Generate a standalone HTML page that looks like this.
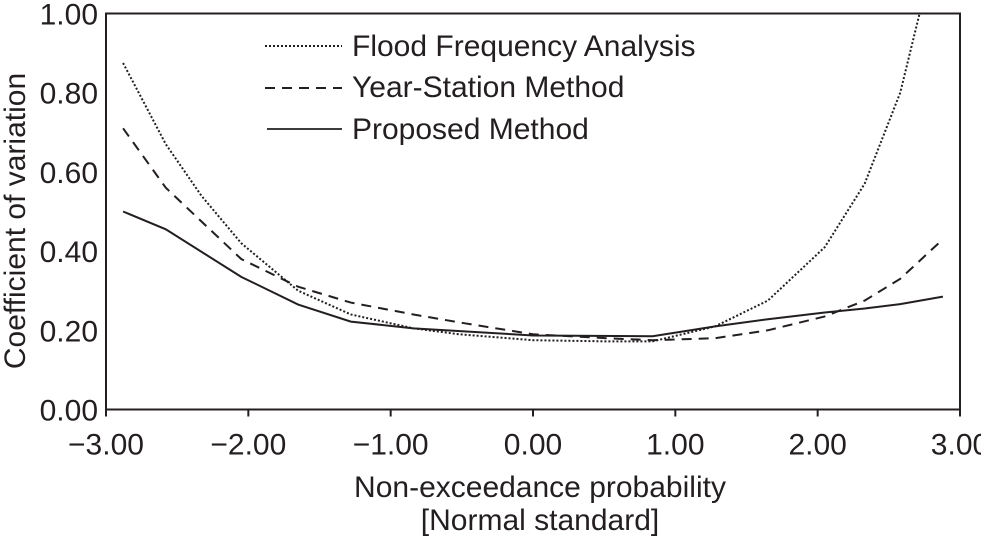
<!DOCTYPE html>
<html><head><meta charset="utf-8"><style>
body{margin:0;background:#fff;}
text{font-family:"Liberation Sans",sans-serif;fill:#231f20;}
</style></head><body>
<svg id="chart" width="981" height="537" viewBox="0 0 981 537" xmlns="http://www.w3.org/2000/svg">
<defs><clipPath id="clip"><rect x="106" y="13.5" width="854" height="396"/></clipPath></defs>
<g id="axes"></g>
<g id="series" clip-path="url(#clip)"></g>
<g id="legend">
<line x1="265" y1="46" x2="342" y2="46" stroke="#231f20" stroke-width="2" stroke-dasharray="2,2"/>
<text x="352" y="56" font-size="30">Flood Frequency Analysis</text>
<line x1="265" y1="88" x2="342" y2="88" stroke="#231f20" stroke-width="2" stroke-dasharray="10,7"/>
<text x="352" y="97" font-size="30">Year-Station Method</text>
<line x1="267" y1="129" x2="342" y2="129" stroke="#231f20" stroke-width="1.8"/>
<text x="352" y="139" font-size="30">Proposed Method</text>
</g>
<text transform="translate(25,221) rotate(-90)" text-anchor="middle" font-size="30">Coefficient of variation</text>
<text x="540" y="497" text-anchor="middle" font-size="30">Non-exceedance probability</text>
<text x="540" y="530" text-anchor="middle" font-size="30">[Normal standard]</text>
</svg>
<script>
const xTicks=[-3,-2,-1,0,1,2,3];
const xTickLabels=["\u22123.00","\u22122.00","\u22121.00","0.00","1.00","2.00","3.00"];
const yTicks=[0,0.2,0.4,0.6,0.8,1.0];
const yTickLabels=["0.00","0.20","0.40","0.60","0.80","1.00"];
const ffaX=[-2.88,-2.58,-2.33,-2.05,-1.65,-1.28,-0.84,-0.52,0,0.52,0.84,1.28,1.65,2.05,2.33,2.58,2.75];
const ffaY=[0.875,0.67,0.54,0.42,0.30,0.24,0.205,0.19,0.175,0.172,0.172,0.21,0.275,0.41,0.57,0.80,1.05];
const ysmX=[-2.88,-2.58,-2.05,-1.65,-1.28,-0.84,-0.52,0,0.52,0.84,1.28,1.65,2.05,2.33,2.58,2.88];
const ysmY=[0.71,0.56,0.38,0.31,0.27,0.24,0.22,0.19,0.18,0.175,0.18,0.20,0.235,0.275,0.33,0.43];
const pmX=[-2.88,-2.58,-2.05,-1.65,-1.28,-0.84,0,0.84,1.28,1.65,2.05,2.33,2.58,2.88];
const pmY=[0.50,0.455,0.335,0.265,0.222,0.205,0.187,0.185,0.21,0.228,0.245,0.255,0.266,0.285];
const L=106,R=960,T=13.5,B=409.5;
const sx=v=>L+(v+3)/6*(R-L);
const sy=v=>B-v*(B-T);
const NS="http://www.w3.org/2000/svg";
const axes=document.getElementById('axes');
function mk(tag,attrs,parent){const e=document.createElementNS(NS,tag);for(const k in attrs)e.setAttribute(k,attrs[k]);parent.appendChild(e);return e;}
const frame=mk('rect',{x:L,y:T,width:R-L,height:B-T,fill:'none',stroke:'#231f20','stroke-width':2},axes);


xTicks.forEach((v,i)=>{
  const t=mk('line',{x1:sx(v),x2:sx(v),y1:B,y2:B+7,stroke:'#231f20','stroke-width':2},axes);
  
  
  const lb=mk('text',{x:sx(v),y:B+45,'text-anchor':'middle','font-size':30},axes);
  lb.textContent=xTickLabels[i];
  
  
});
yTicks.forEach((v,i)=>{
  const lb=mk('text',{x:L-8,y:sy(v)+11,'text-anchor':'end','font-size':30},axes);
  lb.textContent=yTickLabels[i];
  
  
});
const ser=document.getElementById('series');
function line(xs,ys,dash,name){
  const p=mk('polyline',{points:xs.map((x,i)=>sx(x)+','+sy(ys[i])).join(' '),fill:'none',stroke:'#231f20','stroke-width':dash?2:2,'stroke-dasharray':dash||'none'},ser);
  
  
}
line(ffaX,ffaY,'2,2','ffa-line');
line(ysmX,ysmY,'10,7','ysm-line');
line(pmX,pmY,null,'pm-line');
</script>
</body></html>
